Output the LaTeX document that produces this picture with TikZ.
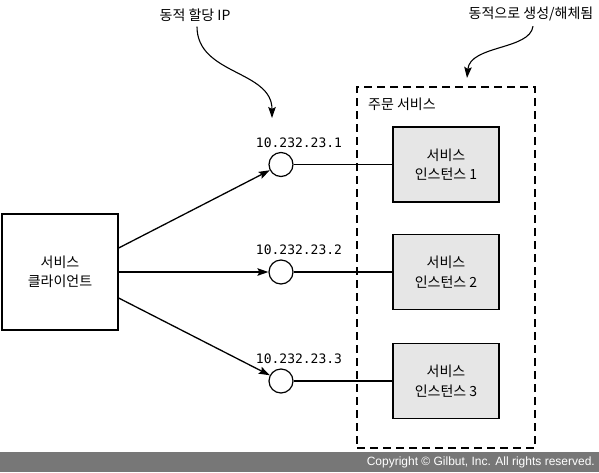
\documentclass[tikz,border=0pt]{standalone}
\usepackage{fontspec}
\setmainfont{Noto Sans CJK KR}
\newfontfamily\monofnt{DejaVu Sans Mono}
\newfontfamily\copyfnt{Liberation Sans}
\usetikzlibrary{arrows.meta,calc}
\definecolor{boxgray}{HTML}{E6E6E6}
\definecolor{bargray}{HTML}{777777}
\tikzset{
  plainbox/.style={draw, line width=1.3pt, minimum width=116pt, minimum height=116pt, align=center, font=\fontsize{14}{19.5}\selectfont, inner sep=0pt},
  instbox/.style={draw, line width=1.3pt, fill=boxgray, minimum width=106pt, minimum height=75pt, align=center, font=\fontsize{14}{19.5}\selectfont, inner sep=0pt},
  ipnode/.style={draw, circle, line width=1.2pt, minimum size=24pt, inner sep=0pt},
  iplabel/.style={font=\monofnt\fontsize{13}{15}\selectfont, inner sep=0pt},
  conn/.style={line width=1.3pt},
  arr/.style={line width=1.3pt, -{Stealth[length=11pt,width=7.5pt,inset=2pt]}},
  annot/.style={font=\fontsize{14}{16}\selectfont, inner sep=0pt},
  groupbox/.style={draw, line width=1.5pt, dash pattern=on 8pt off 5pt, minimum width=178pt, minimum height=361pt, inner sep=0pt}
}
\begin{document}
\begin{tikzpicture}[x=1pt,y=-1pt]
\useasboundingbox (0,0) rectangle (599,472);
% copyright bar
\fill[bargray] (0,452) rectangle (599,472);
\node[anchor=east, text=white, font=\copyfnt\fontsize{12}{14}\selectfont, inner sep=0pt] (copyright) at (595,462.5) {Copyright \textcopyright\ Gilbut, Inc. All rights reserved.};

% group
\node[groupbox] (group) at (446,267.5) {};
\node[anchor=west, font=\fontsize{14}{16}\selectfont, inner sep=0pt] (grouplabel) at (368,104) {주문 서비스};

% client
\node[plainbox] (client) at (60,272) {서비스\\클라이언트};

% instances
\node[instbox] (s1) at (446,164.5) {서비스\\인스턴스 1};
\node[instbox] (s2) at (446,272) {서비스\\인스턴스 2};
\node[instbox] (s3) at (446,381) {서비스\\인스턴스 3};

% IP circles
\node[ipnode] (c1) at (281,164.5) {};
\node[ipnode] (c2) at (281,272) {};
\node[ipnode] (c3) at (281,381) {};
\node[iplabel] (l1) at (299,143) {10.232.23.1};
\node[iplabel] (l2) at (299,250) {10.232.23.2};
\node[iplabel] (l3) at (299,359) {10.232.23.3};

% connectors
\draw[arr] ($(client.east)+(0,-24)$) -- (c1);
\draw[arr] (client.east) -- (c2);
\draw[arr] ($(client.east)+(0,26)$) -- (c3);
\draw[conn] (c1) -- (s1);
\draw[conn] (c2) -- (s2);
\draw[conn] (c3) -- (s3);

% annotations
\node[annot] (t1) at (195,15) {동적 할당 IP};
\node[annot] (t2) at (531,14) {동적으로 생성/해체됨};
\coordinate (t1end) at (272,118);
\coordinate (t2end) at (467,78);
\draw[line width=1.1pt, -{Stealth[length=11pt,width=7.5pt,inset=2pt]}] ($(t1.south)+(2,5)$) .. controls (197,75) and (272,70) .. (t1end);
\draw[line width=1.1pt, -{Stealth[length=11pt,width=7.5pt,inset=2pt]}] ($(t2.south)+(2,5)$) .. controls (530,50) and (470,45) .. (t2end);
\end{tikzpicture}
\end{document}
